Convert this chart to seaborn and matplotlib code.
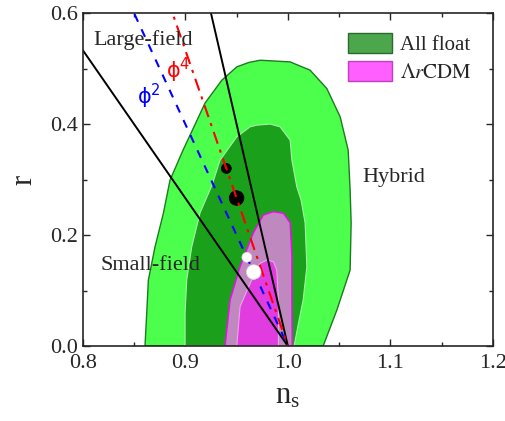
import matplotlib
matplotlib.use("Agg")
import matplotlib.pyplot as plt
import matplotlib.patches as mpatches
from matplotlib.ticker import MultipleLocator
import numpy as np
import pandas as pd
import seaborn as sns

# contour outlines (n_s, r)
allfloat_2s_ns = [0.8607, 0.8624, 0.8640, 0.8705, 0.8786, 0.8851, 0.8978, 0.9193, 0.9356, 0.9502,
                  0.9620, 0.9729, 1.0022, 1.0217, 1.0380, 1.0510, 1.0588, 1.0607, 1.0617, 1.0607,
                  1.0478, 1.0344]
allfloat_2s_r = [0.0, 0.0595, 0.119, 0.179, 0.239, 0.299, 0.353, 0.438, 0.479, 0.503,
                 0.511, 0.515, 0.512, 0.497, 0.464, 0.413, 0.353, 0.281, 0.222, 0.137,
                 0.065, 0.0]

allfloat_1s_ns = [0.8998, 0.8998, 0.9014, 0.9063, 0.9144, 0.9261, 0.9339, 0.9502, 0.9632, 0.9697,
                  0.9827, 0.9924, 1.0022, 1.0039, 1.0087, 1.0129, 1.0168, 1.0185, 1.0149, 1.0100, 1.0061]
allfloat_1s_r = [0.0, 0.0595, 0.119, 0.179, 0.240, 0.290, 0.335, 0.377, 0.395, 0.398,
                 0.400, 0.395, 0.371, 0.335, 0.287, 0.263, 0.222, 0.143, 0.083, 0.038, 0.0]

lrcdm_2s_ns = [0.9388, 0.9437, 0.9534, 0.9664, 0.9761, 0.9859, 0.9957, 1.0022, 1.0039, 1.0039, 1.0042]
lrcdm_2s_r = [0.0, 0.083, 0.143, 0.204, 0.236, 0.242, 0.239, 0.222, 0.161, 0.083, 0.0]

lrcdm_1s_ns = [0.9502, 0.9534, 0.9632, 0.9729, 0.9795, 0.9859, 0.9892, 0.9908, 0.9908]
lrcdm_1s_r = [0.0, 0.071, 0.113, 0.149, 0.155, 0.152, 0.137, 0.083, 0.0]

# model lines r = k (1 - n_s), all through n_s = 1
boundary_slopes = [8 / 3, 8]
phi2_slope = 4
phi4_slope = 16 / 3

# model predictions for N = 50, 60
phi4_ns = [0.94, 0.95]
phi4_r = [0.32, 0.2667]
phi2_ns = [0.96, 0.9667]
phi2_r = [0.16, 0.1333]
N_efolds = [50, 60]

sns.set_style("ticks")
plt.rcParams["font.family"] = ["Liberation Serif", "DejaVu Serif"]
plt.rcParams["mathtext.fontset"] = "stix"

fig = plt.figure(figsize=(5.06, 4.21), dpi=100)
ax = fig.add_axes([0.1635, 0.178, 0.8108, 0.791])

ax.fill(allfloat_2s_ns, allfloat_2s_r, facecolor="#4cff4c", edgecolor="#1e7a1e", lw=1.0, zorder=1)
ax.fill(allfloat_1s_ns, allfloat_1s_r, facecolor="#1aa01a", edgecolor="#a8f0a8", lw=0.8, zorder=2)
ax.fill(lrcdm_2s_ns, lrcdm_2s_r, facecolor="#bf88bf", edgecolor="#ff00ff", lw=1.0, zorder=3)
ax.fill(lrcdm_1s_ns, lrcdm_1s_r, facecolor="#e03ce0", edgecolor="#e8a8e8", lw=0.8, zorder=4)

ns_grid = np.array([0.75, 1.0])
for k in boundary_slopes:
    sns.lineplot(x=ns_grid, y=k * (1 - ns_grid), color="black", lw=1.4, ax=ax, zorder=6)
sns.lineplot(x=ns_grid, y=phi2_slope * (1 - ns_grid), color="blue", lw=1.5, ax=ax,
             zorder=6, linestyle=(0, (4, 4)))
sns.lineplot(x=ns_grid, y=phi4_slope * (1 - ns_grid), color="red", lw=1.5, ax=ax,
             zorder=6, linestyle=(0, (6, 3, 1.5, 3)))

pts4 = pd.DataFrame({"ns": phi4_ns, "r": phi4_r, "N": N_efolds})
pts2 = pd.DataFrame({"ns": phi2_ns, "r": phi2_r, "N": N_efolds})
sns.scatterplot(data=pts4, x="ns", y="r", size="N", sizes=(50, 110), color="black",
                edgecolor="black", legend=False, ax=ax, zorder=5)
sns.scatterplot(data=pts2, x="ns", y="r", size="N", sizes=(50, 110), color="white",
                edgecolor="#dddddd", linewidth=0.5, legend=False, ax=ax, zorder=7)

ax.text(0.859, 0.551, "Large-field", fontsize=16, ha="center", va="center", zorder=8)
ax.text(0.866, 0.146, "Small-field", fontsize=16, ha="center", va="center", zorder=8)
ax.text(1.103, 0.303, "Hybrid", fontsize=16, ha="center", va="center", zorder=8)
ax.text(0.865, 0.449, r"$\mathrm{\phi}^2$", color="blue", fontsize=15, ha="center", va="center",
        zorder=8, math_fontfamily="dejavusans")
ax.text(0.893, 0.497, r"$\mathrm{\phi}^4$", color="red", fontsize=15, ha="center", va="center",
        zorder=8, math_fontfamily="dejavusans")

ax.set_xlim(0.8, 1.2)
ax.set_ylim(0.0, 0.6)
ax.set_xticks([0.8, 0.9, 1.0, 1.1, 1.2])
ax.set_xticklabels(["0.8", "0.9", "1.0", "1.1", "1.2"])
ax.set_yticks([0.0, 0.2, 0.4, 0.6])
ax.set_yticklabels(["0.0", "0.2", "0.4", "0.6"])
ax.xaxis.set_minor_locator(MultipleLocator(0.05))
ax.yaxis.set_minor_locator(MultipleLocator(0.1))
ax.tick_params(which="both", direction="in", top=True, right=True, labelsize=16, width=1)
ax.tick_params(which="major", length=5)
ax.tick_params(which="minor", length=3)
ax.tick_params(axis="x", which="major", pad=6)
for s in ax.spines.values():
    s.set_linewidth(1.2)
    s.set_zorder(10)

ax.set_xlabel(r"$\mathregular{n_s}$", fontsize=22, labelpad=6)
ax.set_ylabel("r", fontsize=22, labelpad=8)

handles = [mpatches.Patch(facecolor="#4ca64c", edgecolor="#2a6a2a", label="All float"),
           mpatches.Patch(facecolor="#ff5fff", edgecolor="#c040c0",
                          label=r"$\mathrm{\Lambda}\mathit{r}\mathrm{CDM}$")]
ax.legend(handles=handles, loc="upper left", bbox_to_anchor=(0.627, 0.965), frameon=False,
          fontsize=15, handlelength=2.1, handleheight=1.1, handletextpad=0.4, labelspacing=0.3,
          borderaxespad=0)

fig.savefig("out.png", dpi=100)
